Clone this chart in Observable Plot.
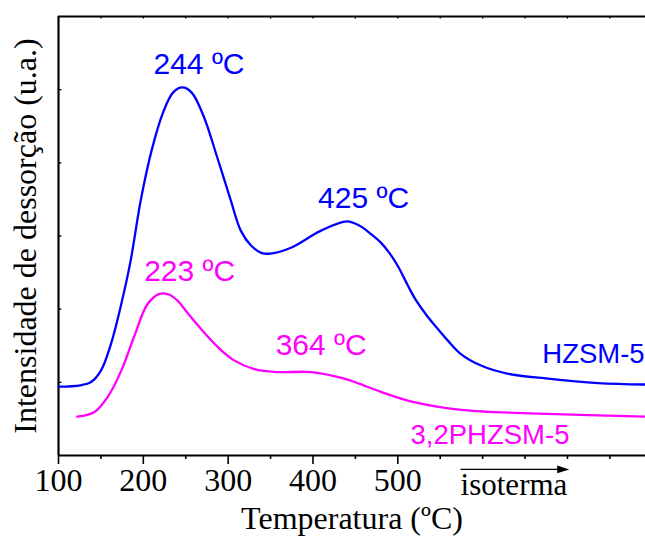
<!DOCTYPE html>
<html><head><meta charset="utf-8">
<script src="https://cdn.jsdelivr.net/npm/d3@7"></script>
<script src="https://cdn.jsdelivr.net/npm/@observablehq/plot@0.6"></script>
<style>body{margin:0;background:#fff}</style>
</head><body><div id="chart"></div>
<script>
// HZSM-5 (blue)
const hzsmT = [100, 126, 138, 150, 162, 174, 185, 197, 210, 223, 235, 246, 257, 271, 287, 303, 315, 327, 339, 350, 374, 409, 440, 455, 468, 480, 490, 500, 512, 521, 535, 548, 559, 574, 598, 629, 677, 736, 792];
const hzsmI = [0.94, 0.96, 1.00, 1.16, 1.53, 2.07, 2.66, 3.49, 4.18, 4.68, 4.96, 5.03, 4.96, 4.64, 4.08, 3.49, 3.07, 2.87, 2.77, 2.76, 2.84, 3.07, 3.20, 3.14, 3.03, 2.91, 2.77, 2.59, 2.32, 2.13, 1.90, 1.72, 1.57, 1.39, 1.23, 1.12, 1.05, 0.99, 0.97];
// 3,2PHZSM-5 (magenta)
const phzT = [122, 142, 158, 174, 189, 205, 219, 230, 240, 252, 268, 288, 307, 331, 358, 398, 437, 480, 519, 578, 676, 792];
const phzI = [0.53, 0.59, 0.80, 1.16, 1.62, 2.07, 2.21, 2.20, 2.12, 1.95, 1.73, 1.48, 1.30, 1.18, 1.14, 1.14, 1.05, 0.87, 0.73, 0.62, 0.57, 0.53];

const majorTicks = [100, 200, 300, 400, 500];
const minorTicks = [150, 250, 350, 450, 550, 600, 650, 700, 750];
const topTicks = [150, 200, 250, 300, 350, 400, 450, 500, 550, 600, 650, 700, 750];
const yTicks = [1, 2, 3, 4, 5];

const peakText = ["244 ºC", "425 ºC", "223 ºC", "364 ºC"];
const peakT = [212, 406, 201, 356];
const peakI = [5.35, 3.52, 2.52, 1.50];
const peakColor = ["#0000ff", "#0000ff", "#ff00ff", "#ff00ff"];

const sampleText = ["HZSM-5", "3,2PHZSM-5"];
const sampleT = [791, 515];
const sampleI = [1.38, 0.28];
const sampleAnchor = ["end", "start"];
const sampleColor = ["#0000ff", "#ff00ff"];

const isoText = ["isoterma"];
const isoT = [574];
const isoI = [-0.41];
const arrowT1 = [574];
const arrowT2 = [695];
const arrowI = [-0.19];

const hzsm = hzsmT.map((t, i) => ({t, v: hzsmI[i]}));
const phz = phzT.map((t, i) => ({t, v: phzI[i]}));
const peaks = peakText.map((s, i) => ({s, t: peakT[i], v: peakI[i], c: peakColor[i]}));
const samples = sampleText.map((s, i) => ({s, t: sampleT[i], v: sampleI[i], c: sampleColor[i], a: sampleAnchor[i]}));

const head = {draw(ctx) { ctx.moveTo(6, 0); ctx.lineTo(-6, -3.8); ctx.lineTo(-6, 3.8); ctx.closePath(); }};

const chart = Plot.plot({
  width: 645, height: 536,
  marginLeft: 58, marginRight: 0, marginTop: 16, marginBottom: 81,
  style: {fontFamily: "Liberation Serif", fontSize: "32px", color: "black", background: "white", overflow: "visible"},
  x: {domain: [100, 792]},
  y: {domain: [0, 6], axis: null},
  marks: [
    Plot.axisX(majorTicks, {anchor: "bottom", tickSize: 9, tickPadding: 4, strokeWidth: 1.6, tickFormat: d => String(d), label: null, fontSize: 32}),
    Plot.axisX(minorTicks, {anchor: "bottom", tickSize: 4, strokeWidth: 1.6, tickFormat: () => "", label: null}),
    Plot.ruleX(topTicks, {x: d => d, y1: 6, y2: 5.965, strokeWidth: 1.3}),
    Plot.ruleY(yTicks, {y: d => d, x1: 100, x2: 104, strokeWidth: 1.3}),
    Plot.ruleX([100], {strokeWidth: 2.2}),
    Plot.ruleY([0], {strokeWidth: 2.2}),
    Plot.ruleY([6], {strokeWidth: 2.2}),
    Plot.line(hzsm, {x: "t", y: "v", stroke: "#0000ff", strokeWidth: 2.3, curve: "catmull-rom"}),
    Plot.line(phz, {x: "t", y: "v", stroke: "#ff00ff", strokeWidth: 2.3, curve: "catmull-rom"}),
    Plot.text(peaks, {x: "t", y: "v", text: "s", fill: "c", textAnchor: "start", lineAnchor: "middle", fontSize: 30, fontFamily: "Liberation Sans"}),
    Plot.text(samples.filter(d => d.a === "end"), {x: "t", y: "v", text: "s", fill: "c", textAnchor: "end", lineAnchor: "middle", fontSize: 27.5, fontFamily: "Liberation Sans"}),
    Plot.text(samples.filter(d => d.a === "start"), {x: "t", y: "v", text: "s", fill: "c", textAnchor: "start", lineAnchor: "middle", fontSize: 27.5, fontFamily: "Liberation Sans"}),
    Plot.link(arrowT1, {x1: d => d, x2: (d, i) => arrowT2[i], y1: arrowI[0], y2: arrowI[0], stroke: "black", strokeWidth: 1.3}),
    Plot.dot(arrowT2, {x: d => d, y: arrowI[0], symbol: head, r: 5, fill: "black", stroke: "none"}),
    Plot.text(isoText, {x: (d, i) => isoT[i], y: (d, i) => isoI[i], text: d => d, textAnchor: "start", lineAnchor: "middle", fontSize: 31, fontFamily: "Liberation Serif"}),
    Plot.text(["Temperatura (ºC)"], {text: d => d, frameAnchor: "bottom", dy: 63, textAnchor: "middle", lineAnchor: "middle", fontSize: 32, fontFamily: "Liberation Serif"}),
    Plot.text(["Intensidade de dessorção (u.a.)"], {text: d => d, frameAnchor: "left", rotate: -90, dx: -33, textAnchor: "middle", lineAnchor: "middle", fontSize: 32, fontFamily: "Liberation Serif"})
  ]
});
document.getElementById("chart").appendChild(chart);
</script>
</body></html>
